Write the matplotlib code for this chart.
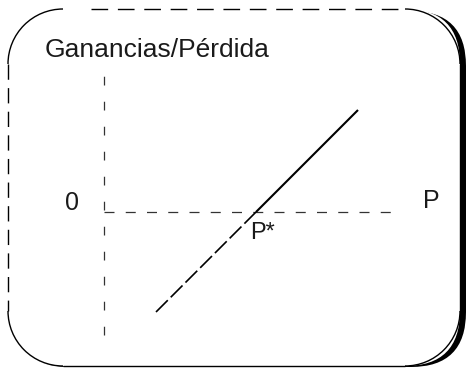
import matplotlib
matplotlib.use("Agg")
import matplotlib.pyplot as plt
from matplotlib.patches import FancyBboxPatch, Arc

plt.rcParams['font.family'] = ['Liberation Sans', 'DejaVu Sans']

# Profit line: price P against profit (break-even at P*)
price = [5.2, 15.2, 25.4]
profit = [-10.0, 0.0, 10.2]

# Axis extents (price axis and profit axis)
price_axis = [0.0, 29.3]
profit_axis = [-12.3, 14.2]

y_label = "Ganancias/Pérdida"
x_label = "P"
origin_label = "0"
breakeven_label = "P*"

W, H = 468, 369
fig = plt.figure(figsize=(W / 100, H / 100), dpi=100)

# ---- rounded frame with drop shadow (pixel coordinates, y downwards) ----
bg = fig.add_axes([0, 0, 1, 1])
bg.set_xlim(0, W)
bg.set_ylim(H, 0)
bg.axis('off')

x0, x1, y0, y1, r = 8, 460, 9, 366, 55
shadow = FancyBboxPatch((x0 + 6, y0 + 2), x1 - x0, y1 - y0 - 1,
                        boxstyle=f"round,pad=0,rounding_size={r}",
                        facecolor='black', edgecolor='black', lw=0)
bg.add_patch(shadow)
box = FancyBboxPatch((x0, y0), x1 - x0, y1 - y0,
                     boxstyle=f"round,pad=0,rounding_size={r}",
                     facecolor='white', edgecolor='none', lw=0)
bg.add_patch(box)

edge = dict(color='black', lw=1.0)
# corners
bg.add_patch(Arc((x0 + r, y0 + r), 2 * r, 2 * r, theta1=180, theta2=270, **edge))
bg.add_patch(Arc((x1 - r, y0 + r), 2 * r, 2 * r, theta1=270, theta2=360, **edge))
bg.add_patch(Arc((x1 - r, y1 - r), 2 * r, 2 * r, theta1=0, theta2=90, **edge))
bg.add_patch(Arc((x0 + r, y1 - r), 2 * r, 2 * r, theta1=90, theta2=180, **edge))
# straight edges: top and left broken, right and bottom solid
bg.plot([x0 + r + 28, x1 - r], [y0, y0], linestyle=(0, (12, 7)), **edge)
bg.plot([x0, x0], [y0 + r, y1 - r], linestyle=(0, (11, 6)), **edge)
bg.plot([x1, x1], [y0 + r, y1 - r], solid_capstyle='butt', **edge)
bg.plot([x0 + r, x1 - r], [y1, y1], solid_capstyle='butt', **edge)

# ---- chart in data coordinates ----
ax = fig.add_axes([0, 0, 1, 1])
ax.patch.set_alpha(0)
ax.set_xlim(-10.4, 36.4)
ax.set_ylim(-15.7, 21.2)
ax.axis('off')

axis_style = dict(color='#333333', lw=0.9)
ax.plot([0, 0], profit_axis, linestyle=(0, (7, 13)), **axis_style)
ax.plot(price_axis, [0, 0], linestyle=(0, (8, 9)), **axis_style)

# losses (below zero) broken, profits solid
ax.plot(price[:2], profit[:2], color='black', lw=1.2, linestyle=(0, (10, 2.5)))
ax.plot(price[1:], profit[1:], color='black', lw=1.5, solid_capstyle='butt')

txt = dict(color='#1a1a1a', va='baseline')
ax.text(-5.9, 15.5, y_label, fontsize=19, ha='left', **txt)
ax.text(-3.2, 0.2, origin_label, fontsize=18, ha='center', **txt)
ax.text(32.7, 0.4, x_label, fontsize=18, ha='center', **txt)
ax.text(price[1] - 0.6, -2.7, breakeven_label, fontsize=17, ha='left', **txt)

fig.savefig("out.png", dpi=100)
